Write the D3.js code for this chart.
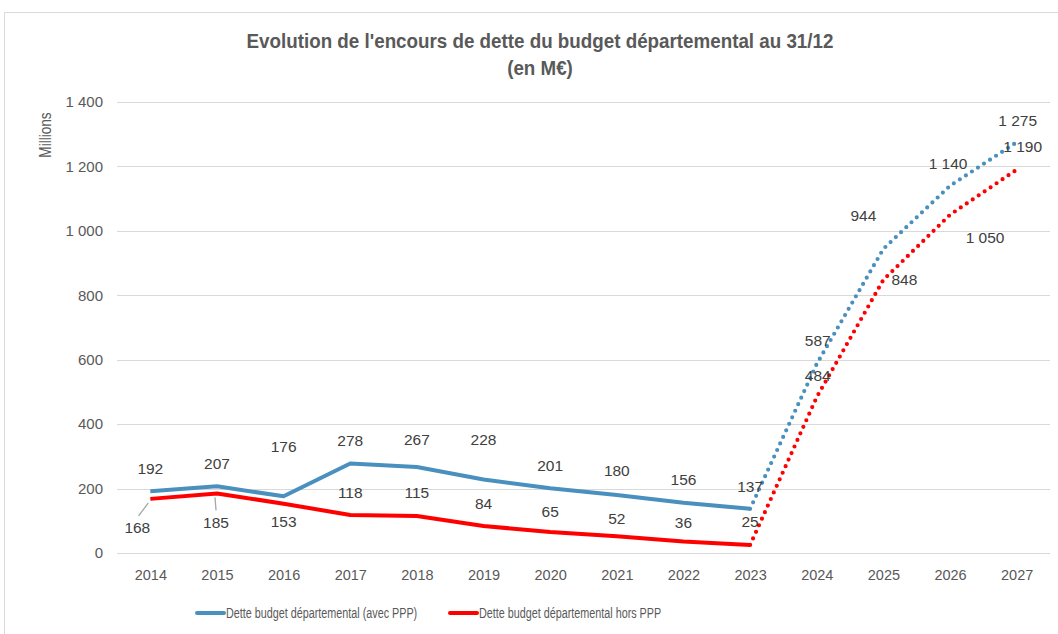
<!DOCTYPE html>
<html>
<head>
<meta charset="utf-8">
<script src="https://cdn.jsdelivr.net/npm/d3@7"></script>
<style>
  html, body { margin: 0; padding: 0; background: #fff; }
  svg { display: block; }
  text { font-family: "Liberation Sans", Arial, sans-serif; }
</style>
</head>
<body>
<svg id="chart" width="1058" height="634"></svg>
<script>
// Years on the category axis
const years = ["2014","2015","2016","2017","2018","2019","2020","2021","2022","2023","2024","2025","2026","2027"];
// Debt outstanding (M€), including PPP
const avecPPP = [192, 207, 176, 278, 267, 228, 201, 180, 156, 137, 587, 944, 1140, 1275];
// Debt outstanding (M€), excluding PPP
const horsPPP = [168, 185, 153, 118, 115, 84, 65, 52, 36, 25, 484, 848, 1050, 1190];
// Index of the last actual year; later years are projections (dotted)
const lastActual = 9;
const yTicks = [0, 200, 400, 600, 800, 1000, 1200, 1400];
const seriesNames = ["Dette budget départemental (avec PPP)", "Dette budget départemental hors PPP"];

// Label offsets (dx, dy) relative to each point
const blueLabelOffsets = [[0,-23],[0,-23],[0,-50],[0,-23],[0,-27],[0,-40],[0,-23],[0,-24],[0,-23],[0,-22],[1,-23],[-20,-33],[-2,-22],[1,-22]];
const redLabelOffsets  = [[-13,29],[-1,29],[0,18],[0,-22],[0,-23],[0,-22],[0,-20],[0,-18],[0,-19],[0,-23],[1,-22],[21,0],[35,23],[6,-23]];

const svg = d3.select("#chart");
const fmt = v => d3.format(",")(v).replace(/,/g, " ");

// Chart frame
svg.append("rect").attr("x", 4.5).attr("y", 12.5).attr("width", 1060).attr("height", 640)
  .attr("fill", "#fff").attr("stroke", "#d9d9d9").attr("stroke-width", 1);

const x = d3.scalePoint().domain(years).range([117, 1050]).padding(0.5);
const y = d3.scaleLinear().domain([0, 1400]).range([553, 102]);

// Title (condensed horizontally)
const title = svg.append("text").attr("text-anchor", "middle")
  .attr("transform", "translate(540,0) scale(0.94,1)")
  .attr("fill", "#595959").attr("font-size", 20).attr("font-weight", "bold");
title.append("tspan").attr("x", 0).attr("y", 48).text("Evolution de l'encours de dette du budget départemental au 31/12");
title.append("tspan").attr("x", 0).attr("y", 75).text("(en M€)");

// Gridlines
svg.append("g").selectAll("line").data(yTicks).join("line")
  .attr("x1", 117).attr("x2", 1050)
  .attr("y1", d => Math.round(y(d)) + 0.5).attr("y2", d => Math.round(y(d)) + 0.5)
  .attr("stroke", "#d9d9d9").attr("stroke-width", 1);

// Y axis labels
const yAxis = svg.append("g").attr("transform", "translate(117,0)")
  .call(d3.axisLeft(y).tickValues(yTicks).tickSize(0).tickPadding(14).tickFormat(fmt));
yAxis.select(".domain").remove();
yAxis.selectAll("text").attr("fill", "#595959").attr("font-size", 15)
  .attr("font-family", "'Liberation Sans', Arial, sans-serif");

// X axis labels
const xAxis = svg.append("g").attr("transform", "translate(0,553)")
  .call(d3.axisBottom(x).tickSize(0).tickPadding(17));
xAxis.select(".domain").remove();
xAxis.selectAll("text").attr("fill", "#595959").attr("font-size", 14.5)
  .attr("font-family", "'Liberation Sans', Arial, sans-serif");

// Y axis title
svg.append("text").attr("transform", "translate(51,135) rotate(-90) scale(0.85,1)")
  .attr("text-anchor", "middle").attr("fill", "#595959").attr("font-size", 16).text("Millions");

const blue = "#4a90be", red = "#ff0000";
const lineIdx = d3.line().x(d => x(years[d.i])).y(d => y(d.v));

function drawSeries(values, color) {
  const pts = values.map((v, i) => ({ v, i }));
  svg.append("path").datum(pts.slice(0, lastActual + 1)).attr("d", lineIdx)
    .attr("fill", "none").attr("stroke", color).attr("stroke-width", 4)
    .attr("stroke-linejoin", "round");
  svg.append("path").datum(pts.slice(lastActual)).attr("d", lineIdx)
    .attr("fill", "none").attr("stroke", color).attr("stroke-width", 4.2)
    .attr("stroke-linecap", "round").attr("stroke-dasharray", "0 7.2");
}
drawSeries(horsPPP, red);
drawSeries(avecPPP, blue);

// Leader lines for displaced labels
const leaders = [0, 1].map(i => ({ i, v: horsPPP[i], off: redLabelOffsets[i] }));
svg.append("g").selectAll("line").data(leaders).join("line")
  .attr("x1", d => x(years[d.i]) - 2).attr("y1", d => y(d.v) + 4)
  .attr("x2", d => x(years[d.i]) + d.off[0] * 0.9).attr("y2", d => y(d.v) + d.off[1] - 12)
  .attr("stroke", "#a6a6a6").attr("stroke-width", 1.3);

// Data labels
function drawLabels(values, offsets) {
  svg.append("g").selectAll("text").data(values).join("text")
    .attr("x", (d, i) => x(years[i]) + offsets[i][0])
    .attr("y", (d, i) => y(d) + offsets[i][1])
    .attr("dy", "0.35em").attr("text-anchor", "middle")
    .attr("fill", "#404040").attr("font-size", 15.5)
    .text(d => fmt(d));
}
drawLabels(avecPPP, blueLabelOffsets);
drawLabels(horsPPP, redLabelOffsets);

// Legend (condensed text)
const legend = svg.append("g").attr("transform", "translate(0,613)");
const legendItems = [
  { name: seriesNames[0], color: blue, x: 197 },
  { name: seriesNames[1], color: red, x: 450 }
];
legendItems.forEach(it => {
  legend.append("line").attr("x1", it.x).attr("x2", it.x + 27).attr("y1", 0).attr("y2", 0)
    .attr("stroke", it.color).attr("stroke-width", 4).attr("stroke-linecap", "round");
  legend.append("text").attr("transform", `translate(${it.x + 29},0) scale(0.72,1)`)
    .attr("dy", "0.35em").attr("fill", "#595959").attr("font-size", 15).text(it.name);
});
</script>
</body>
</html>
